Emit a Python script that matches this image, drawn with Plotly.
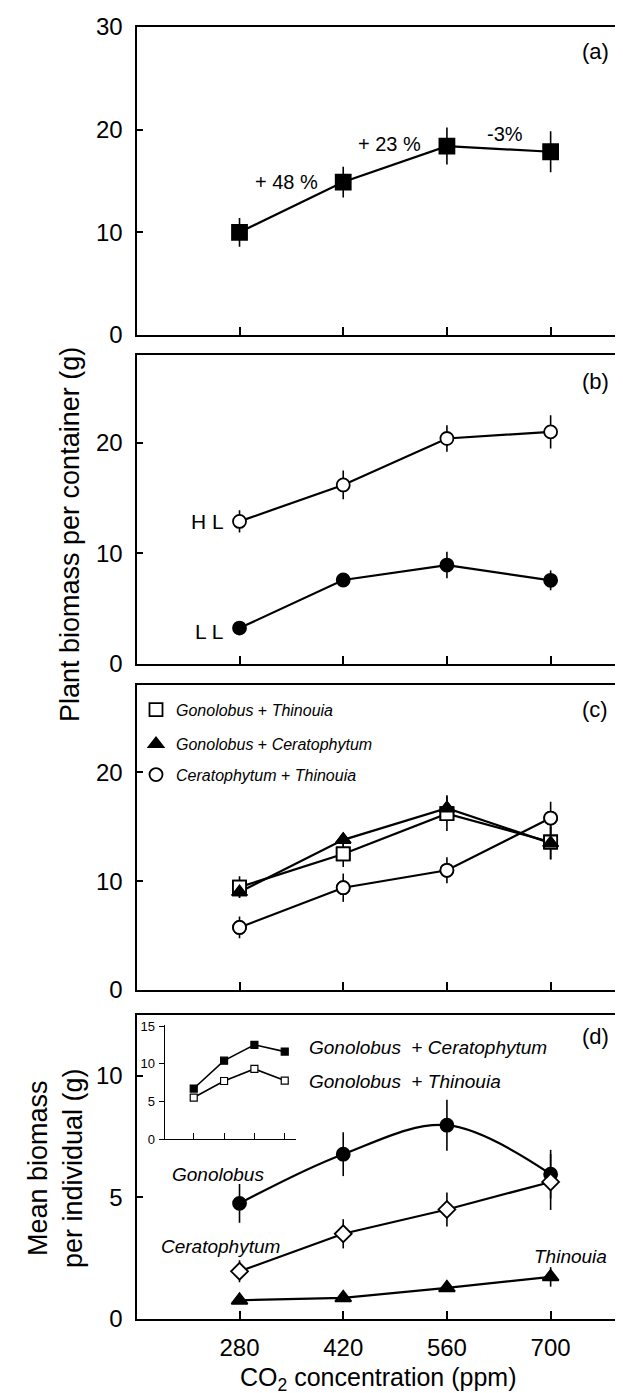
import plotly.graph_objects as go

W, H = 623, 1393
FONT = "Liberation Sans, Arial, Helvetica, sans-serif"

co2 = [280, 420, 560, 700]

# Panel (a): total plant biomass per container
a_mean = [10.0, 14.9, 18.4, 17.85]
a_err = [1.4, 1.5, 1.8, 2.0]
a_pct_labels = ["+ 48 %", "+ 23 %", "-3%"]
a_pct_x = [344, 482, 638]
a_pct_y = [14.9, 18.6, 19.55]

# Panel (b): high light / low light
hl_mean = [12.9, 16.2, 20.4, 21.0]
hl_err = [1.0, 1.3, 1.2, 1.5]
ll_mean = [3.25, 7.6, 8.95, 7.57]
ll_err = [0.3, 0.3, 1.2, 0.9]

# Panel (c): species pairs
gt_mean = [9.45, 12.5, 16.2, 13.6]
gt_err = [1.0, 1.2, 1.6, 1.6]
gc_mean = [9.0, 13.8, 16.7, 13.5]
gc_err = [0.5, 0.6, 1.2, 1.5]
ct_mean = [5.75, 9.4, 11.0, 15.8]
ct_err = [1.0, 1.3, 1.2, 1.5]

# Panel (d): mean biomass per individual
gon_mean = [4.75, 6.77, 7.96, 5.95]
gon_err = [0.8, 0.9, 1.05, 1.0]
cer_mean = [1.96, 3.5, 4.5, 5.63]
cer_err = [0.45, 0.6, 0.7, 1.15]
thi_mean = [0.77, 0.87, 1.28, 1.73]
thi_err = [0.1, 0.1, 0.15, 0.4]

# Inset of (d)
ins_gc = [6.7, 10.4, 12.5, 11.6]
ins_gt = [5.5, 7.7, 9.3, 7.75]

def px(x):
    return x / W

def py(y):
    return 1 - y / H

LW = 2.2
fig = go.Figure()

def add(x, y, err, axis, symbol, fill, size=12, shape="linear", name=None):
    xa, ya = axis
    fig.add_trace(go.Scatter(
        x=x, y=y, mode="lines+markers", xaxis=xa, yaxis=ya,
        line=dict(color="black", width=LW, shape=shape, smoothing=1.0),
        marker=dict(symbol=symbol, size=size, color=fill,
                    line=dict(color="black", width=1.8)),
        error_y=dict(type="data", array=err, visible=err is not None,
                     color="black", thickness=1.6, width=0),
        showlegend=False, name=name or "series"))

# (a)
add(co2, a_mean, a_err, ("x", "y"), "square", "black", size=15)
# (b)
add(co2, hl_mean, hl_err, ("x2", "y2"), "circle", "white", size=13)
add(co2, ll_mean, ll_err, ("x2", "y2"), "circle", "black", size=13)
# (c)
add(co2, ct_mean, ct_err, ("x3", "y3"), "circle", "white", size=13)
add(co2, gt_mean, gt_err, ("x3", "y3"), "square", "white", size=13)
add(co2, gc_mean, gc_err, ("x3", "y3"), "triangle-up", "black", size=13)
# legend entries for (c) (marker only, same data)
leg_specs = [
    ("square", "white", gt_mean, "legend", "<i>Gonolobus</i> + <i>Thinouia</i>"),
    ("triangle-up", "black", gc_mean, "legend2", "<i>Gonolobus</i> + <i>Ceratophytum</i>"),
    ("circle", "white", ct_mean, "legend3", "<i>Ceratophytum</i> + <i>Thinouia</i>"),
]
for sym, fill, yv, lg, nm in leg_specs:
    fig.add_trace(go.Scatter(
        x=co2, y=yv, mode="markers", xaxis="x3", yaxis="y3",
        marker=dict(symbol=sym, size=13, color=fill, line=dict(color="black", width=1.8)),
        showlegend=True, legend=lg, name=nm, hoverinfo="skip"))
# (d)
add(co2, gon_mean, gon_err, ("x4", "y4"), "circle", "black", size=13, shape="spline")
add(co2, cer_mean, cer_err, ("x4", "y4"), "diamond", "white", size=13)
add(co2, thi_mean, thi_err, ("x4", "y4"), "triangle-up", "black", size=14)
# inset
add(co2, ins_gc, None, ("x5", "y5"), "square", "black", size=7)
add(co2, ins_gt, None, ("x5", "y5"), "square", "white", size=7)
for tr in fig.data[-2:]:
    tr.line.width = 1.6
    tr.marker.line.width = 1.2

XDOM = [px(129.3), px(616.7)]
XR = [142, 800]
tickfont = dict(family=FONT, size=24, color="black")

def xax(anchor, dom, showlabels=False):
    return dict(domain=dom, range=XR, anchor=anchor, tickvals=co2,
                showticklabels=showlabels, ticks="inside", ticklen=8, tickwidth=1.6,
                tickcolor="black", showline=True, linecolor="black", linewidth=1.6,
                mirror=True, showgrid=False, zeroline=False, tickfont=tickfont,
                ticklabelstandoff=6)

def yax(anchor, ydom, rng, tv):
    return dict(domain=ydom, range=rng, anchor=anchor, tickvals=tv,
                ticks="inside", ticklen=6, tickwidth=1.6, tickcolor="black",
                showline=True, linecolor="black", linewidth=1.6, mirror=True,
                showgrid=False, zeroline=False, tickfont=tickfont,
                ticklabelstandoff=8)

layout = dict(
    width=W, height=H, margin=dict(l=0, r=0, t=0, b=0, autoexpand=False),
    paper_bgcolor="white", plot_bgcolor="white",
    font=dict(family=FONT, color="black"),
    xaxis=xax("y", XDOM),
    yaxis=yax("x", [py(327), py(19)], [0, 30], [0, 10, 20, 30]),
    xaxis2=xax("y2", XDOM),
    yaxis2=yax("x2", [py(656), py(346.5)], [0, 28], [0, 10, 20]),
    xaxis3=xax("y3", XDOM),
    yaxis3=yax("x3", [py(982), py(677.3)], [0, 28], [0, 10, 20]),
    xaxis4=xax("y4", XDOM, True),
    yaxis4=yax("x4", [py(1311), py(1006.7)], [0, 12.5], [0, 5, 10]),
    xaxis5=dict(domain=[px(156.7), px(288)], range=[146, 752], anchor="y5",
                tickvals=co2, showticklabels=False, ticks="inside", ticklen=6,
                tickwidth=1.2, tickcolor="black", showline=True, linecolor="black",
                linewidth=1.3, mirror=False, showgrid=False, zeroline=False),
    yaxis5=dict(domain=[py(1131), py(1016.5)], range=[0, 15.2], anchor="x5",
                tickvals=[0, 5, 10, 15], ticks="outside", ticklen=5, tickwidth=1.2,
                tickcolor="black", showline=True, linecolor="black", linewidth=1.3,
                mirror=False, showgrid=False, zeroline=False,
                tickfont=dict(family=FONT, size=13, color="black"),
                ticklabelstandoff=1),
)

legfont = dict(family=FONT, size=16, color="black")
for lg, yy, xx in [("legend", 701.7, 128), ("legend2", 736, 128), ("legend3", 766.7, 128)]:
    layout[lg] = dict(x=px(xx), y=py(yy), xref="paper", yref="paper",
                      xanchor="left", yanchor="middle", bgcolor="rgba(0,0,0,0)",
                      borderwidth=0, font=legfont, itemwidth=30)

fig.update_layout(**layout)

ann = []
def pann(text, x, y, size, **kw):
    d = dict(text=text, x=px(x), y=py(y), xref="paper", yref="paper",
             showarrow=False, font=dict(family=FONT, size=size, color="black"),
             xanchor=kw.pop("xanchor", "center"), yanchor=kw.pop("yanchor", "middle"))
    d.update(kw)
    ann.append(d)

for t, yy in [("(a)", 44), ("(b)", 373), ("(c)", 701.7), ("(d)", 1028)]:
    pann(t, 587, yy, 22)

for t, xv, yv in zip(a_pct_labels, a_pct_x, a_pct_y):
    ann.append(dict(text=t, x=xv, y=yv, xref="x", yref="y", showarrow=False,
                    font=dict(family=FONT, size=20, color="black")))

pann("H L", 199, 513, 21)
pann("L L", 201, 623, 21)
pann("<i>Gonolobus</i>", 210, 1166, 19)
pann("<i>Ceratophytum</i>", 212, 1238, 19)
pann("<i>Thinouia</i>", 562, 1248, 19)
pann("<i>Gonolobus</i>\u00a0\u00a0+ <i>Ceratophytum</i>", 299, 1039, 19, xanchor="left")
pann("<i>Gonolobus</i>\u00a0\u00a0+ <i>Thinouia</i>", 299, 1073, 19, xanchor="left")
pann("Plant biomass per container (g)", 62, 527, 27, textangle=-90)
pann("Mean biomass<br>per individual (g)", 47, 1160, 27, textangle=-90)
pann("CO<sub>2</sub> concentration (ppm)", 370, 1389, 25, yanchor="bottom")

fig.update_layout(annotations=ann)
fig.write_html("out.html")
